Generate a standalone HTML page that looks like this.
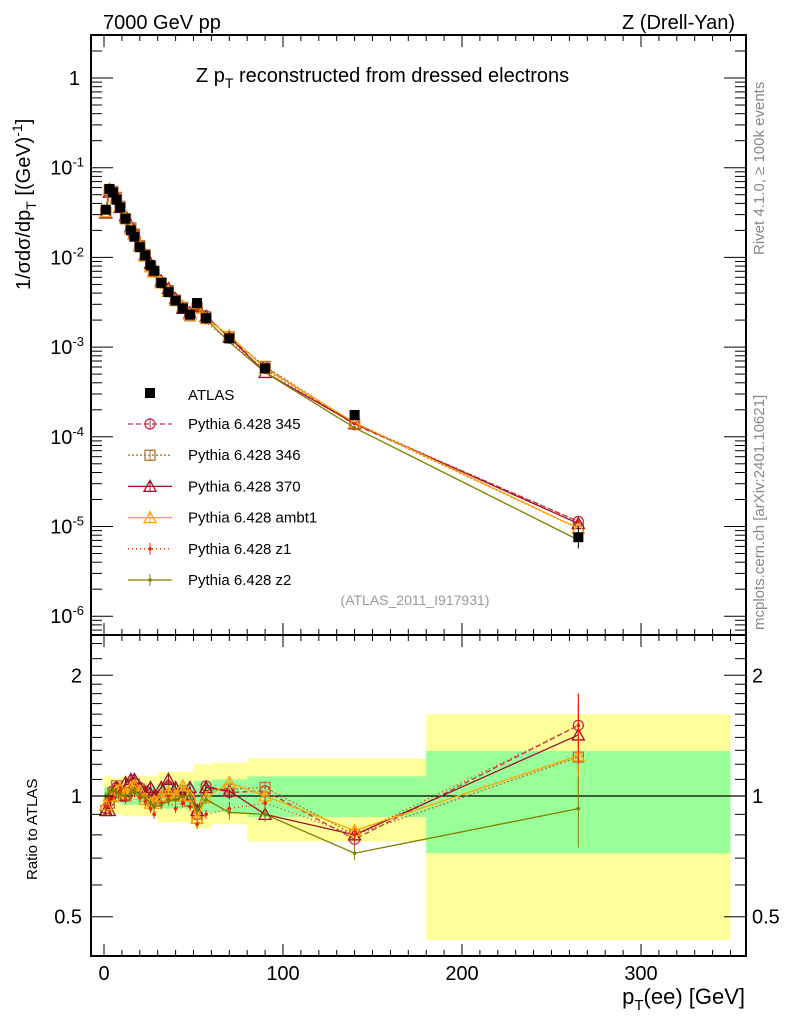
<!DOCTYPE html>
<html><head><meta charset="utf-8"><style>
body{margin:0;background:#fff}
svg{display:block;font-family:"Liberation Sans",sans-serif}
</style></head><body>
<svg id="s" width="786" height="1024" xmlns="http://www.w3.org/2000/svg">
<text x="103" y="29" font-size="20">7000 GeV pp</text>
<text x="735" y="29" font-size="20" text-anchor="end">Z (Drell-Yan)</text>
<text x="196" y="82" font-size="20">Z p<tspan font-size="14" dy="6">T</tspan><tspan dy="-6"> reconstructed from dressed electrons</tspan></text>
<text x="415" y="605" font-size="14" fill="#999" text-anchor="middle">(ATLAS_2011_I917931)</text>
<text transform="translate(764,255) rotate(-90)" font-size="15" fill="#888">Rivet 4.1.0, ≥ 100k events</text>
<text transform="translate(764,630) rotate(-90)" font-size="15" fill="#888">mcplots.cern.ch [arXiv:2401.10621]</text>
<text transform="translate(30,290) rotate(-90)" font-size="20">1/σdσ/dp<tspan font-size="14" dy="6">T</tspan><tspan dy="-6"> [(GeV)</tspan><tspan font-size="14" dy="-8">-1</tspan><tspan dy="8">]</tspan></text>
<text transform="translate(37,880) rotate(-90)" font-size="15">Ratio to ATLAS</text>
<text x="745" y="1004" font-size="22" text-anchor="end">p<tspan font-size="15" dy="6">T</tspan><tspan dy="-6">(ee) [GeV]</tspan></text>
<g id="g"></g>
</svg>
<script>
const g=document.getElementById('g');let h='';
const X=v=>104+v*1.79;
const YM=v=>78-89.7*Math.log10(v);
const YR=r=>796-401*Math.log10(r);
const L=91,R=746,T=35,M=635,B=956;
const bands=[[0,4,.89,1.12,.95,1.05],[4,10,.9,1.11,.96,1.04],[10,30,.89,1.12,.95,1.06],[30,50,.86,1.15,.93,1.07],[50,60,.83,1.2,.91,1.09],[60,80,.85,1.21,.91,1.1],[80,100,.77,1.24,.886,1.12],[100,180,.77,1.24,.886,1.12],[180,350,.437,1.6,.72,1.295]];
bands.forEach(b=>{h+=`<rect x="${X(b[0])}" y="${YR(b[3])}" width="${X(b[1])-X(b[0])}" height="${YR(b[2])-YR(b[3])}" fill="#ffff99"/>`;
h+=`<rect x="${X(b[0])}" y="${YR(b[5])}" width="${X(b[1])-X(b[0])}" height="${YR(b[4])-YR(b[5])}" fill="#99ff99"/>`;});
h+=`<line x1="${L}" x2="${R}" y1="796" y2="796" stroke="#000" stroke-width="1.2"/>`;
const xs=[1,3,5,7,9,12,15,17,20,23,26,28,32,36,40,44,48,52,57,70,90,140,265];
const at=[0.034,0.058,0.053,0.044,0.036,0.027,0.020,0.017,0.013,0.0105,0.0082,0.0071,0.0052,0.0041,0.0033,0.0027,0.0023,0.0031,0.0021,0.00125,0.00058,0.000175,7.6e-6];
const S=[
{c:"#c0304a",m:"o",d:"5,3",r:[.93,.97,1.03,1.05,1.02,1.0,1.06,1.08,1.05,1.03,.97,.98,.99,1.05,1.0,1.02,1.0,.9,1.06,1.02,1.03,.78,1.5]},
{c:"#b87333",m:"s",d:"2,2",r:[.92,.96,1.02,1.06,1.03,1.0,1.07,1.07,1.04,1.02,.96,.97,1.0,1.04,1.01,1.03,.97,.88,1.03,1.04,1.05,.8,1.25]},
{c:"#a0102a",m:"t",d:"",r:[.92,.92,1.02,1.05,1.0,1.08,1.1,1.1,1.05,1.02,1.05,1.0,1.05,1.1,1.05,1.0,1.05,.92,1.05,1.03,.9,.8,1.42]},
{c:"#ffa500",m:"t",d:"",r:[.95,1.0,1.0,1.03,1.04,1.02,1.05,1.06,1.03,.98,.96,.97,1.0,1.02,1.0,1.06,1.0,.88,.99,1.08,1.0,.82,1.26]},
{c:"#ee2200",m:"d",d:"1,3",r:[.94,.98,1.0,1.02,1.03,.98,1.0,1.02,.99,.97,.93,.9,.95,.98,.93,.96,.94,.85,.9,.93,.96,.8,1.5]},
{c:"#808000",m:"d",d:"",r:[1.0,1.02,1.03,1.02,1.01,1.0,1.02,1.03,1.01,.99,.96,.94,.95,.97,.98,1.0,1.0,.92,.98,.91,.9,.72,.93]}];
function mk(m,x,y,c){
 if(m=="o")return `<circle cx="${x}" cy="${y}" r="5" fill="none" stroke="${c}" stroke-width="1.3"/>`;
 if(m=="s")return `<rect x="${x-5}" y="${y-5}" width="10" height="10" fill="none" stroke="${c}" stroke-width="1.3"/>`;
 if(m=="t")return `<path d="M${x},${y-6}L${x+6},${y+5}L${x-6},${y+5}Z" fill="none" stroke="${c}" stroke-width="1.3"/>`;
 return `<circle cx="${x}" cy="${y}" r="1.8" fill="${c}"/>`;}
S.forEach(s=>{
 let pm=xs.map((x,i)=>`${X(x)},${YM(at[i]*s.r[i])}`).join(' ');
 let pr=xs.map((x,i)=>`${X(x)},${YR(s.r[i])}`).join(' ');
 h+=`<polyline points="${pm}" fill="none" stroke="${s.c}" stroke-width="1.3" stroke-dasharray="${s.d}"/>`;
 h+=`<polyline points="${pr}" fill="none" stroke="${s.c}" stroke-width="1.3" stroke-dasharray="${s.d}"/>`;
 xs.forEach((x,i)=>{const e=i>=19?(i==22?0.2:0.04):0.025;
  h+=`<line x1="${X(x)}" x2="${X(x)}" y1="${YR(s.r[i]*(1+e))}" y2="${YR(s.r[i]*(1-e))}" stroke="${s.c}"/>`;
  h+=mk(s.m,X(x),YM(at[i]*s.r[i]),s.c)+mk(s.m,X(x),YR(s.r[i]),s.c);});
});
xs.forEach((x,i)=>{h+=`<rect x="${X(x)-5}" y="${YM(at[i])-5}" width="10" height="10" fill="#000"/>`;});
h+=`<line x1="${X(265)}" x2="${X(265)}" y1="${YM(at[22]*1.3)}" y2="${YM(at[22]*0.75)}" stroke="#000"/>`;
const names=["345","346","370","ambt1","z1","z2"];
h+=`<rect x="145" y="388" width="10" height="10"/><text x="188" y="400" font-size="15">ATLAS</text>`;
S.forEach((s,i)=>{const y=424+i*31.2;
 h+=`<line x1="128" x2="172" y1="${y}" y2="${y}" stroke="${s.c}" stroke-width="1.3" stroke-dasharray="${s.d}"/>`+mk(s.m,150,y,s.c)+`<line x1="150" x2="150" y1="${y-6}" y2="${y+6}" stroke="${s.c}"/>`;
 h+=`<text x="188" y="${y+5}" font-size="15">Pythia 6.428 ${names[i]}</text>`;});
h+=`<rect x="${L}" y="${T}" width="${R-L}" height="${M-T}" fill="none" stroke="#000" stroke-width="2"/>`;
h+=`<rect x="${L}" y="${M}" width="${R-L}" height="${B-M}" fill="none" stroke="#000" stroke-width="2"/>`;
for(let v=0;v<=350;v+=10){const x=X(v),big=v%100==0,l=big?12:6;
 [[T,1],[M,-1],[M,1],[B,-1]].forEach(([y,d])=>h+=`<line x1="${x}" x2="${x}" y1="${y}" y2="${y+d*l}" stroke="#000"/>`);
 if(big)h+=`<text x="${x}" y="980" font-size="20" text-anchor="middle">${v}</text>`;}
const labs=["1","10<tspan dy='-8' font-size='13'>-1</tspan>","10<tspan dy='-8' font-size='13'>-2</tspan>","10<tspan dy='-8' font-size='13'>-3</tspan>","10<tspan dy='-8' font-size='13'>-4</tspan>","10<tspan dy='-8' font-size='13'>-5</tspan>","10<tspan dy='-8' font-size='13'>-6</tspan>"];
for(let e=1;e>=-7;e--)for(let k=1;k<10;k++){const v=k*Math.pow(10,e),y=YM(v);if(y<T||y>M)continue;const l=k==1?22:11;
 h+=`<line x1="${L}" x2="${L+l}" y1="${y}" y2="${y}" stroke="#000"/><line x1="${R}" x2="${R-l}" y1="${y}" y2="${y}" stroke="#000"/>`;
 if(k==1)h+=`<text x="${e==0?80:84}" y="${y+7}" font-size="20" text-anchor="end">${labs[-e]}</text>`;}
[.4,.5,.6,.7,.8,.9,1,1.1,1.2,1.3,1.4,1.5,1.6,1.7,1.8,1.9,2,2.2,2.4].forEach(r=>{const y=YR(r);if(y<M||y>B)return;const big=[.5,1,2].includes(r),l=big?22:11;
 h+=`<line x1="${L}" x2="${L+l}" y1="${y}" y2="${y}" stroke="#000"/><line x1="${R}" x2="${R-l}" y1="${y}" y2="${y}" stroke="#000"/>`;
 if(big){h+=`<text x="82" y="${y+7}" font-size="20" text-anchor="end">${r}</text><text x="752" y="${y+7}" font-size="20">${r}</text>`;}});
g.innerHTML=h;
</script>
</body></html>
